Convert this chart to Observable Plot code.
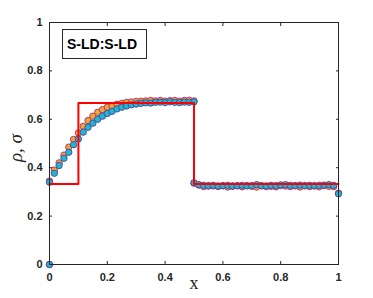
<!DOCTYPE html>
<html>
<head>
<meta charset="utf-8">
<script src="https://cdn.jsdelivr.net/npm/d3@7"></script>
<script src="https://cdn.jsdelivr.net/npm/@observablehq/plot@0.6"></script>
<style>
  html, body { margin: 0; padding: 0; background: #fff; }
  #chart { width: 373px; height: 298px; }
</style>
</head>
<body>
<div id="chart"></div>
<script>
// Left sub-domain grid (first entry is the stray point at the origin)
const leftX = [0, 0, 0.0167, 0.0333, 0.05, 0.0667, 0.0833, 0.1, 0.1167, 0.1333, 0.15,
  0.1667, 0.1833, 0.2, 0.2167, 0.2333, 0.25, 0.2667, 0.2833, 0.3, 0.3167,
  0.3333, 0.35, 0.3667, 0.3833, 0.4, 0.4167, 0.4333, 0.45, 0.4667, 0.4833, 0.5];
const leftOrange = [0, 0.345, 0.390, 0.420, 0.452, 0.485, 0.517, 0.544, 0.571, 0.595, 0.613,
  0.629, 0.640, 0.650, 0.656, 0.662, 0.666, 0.670, 0.672, 0.674, 0.675,
  0.676, 0.678, 0.676, 0.678, 0.675, 0.677, 0.678, 0.675, 0.678, 0.679, 0.676];
const leftCyan = [0, 0.340, 0.377, 0.409, 0.439, 0.464, 0.495, 0.519, 0.547, 0.567, 0.584,
  0.600, 0.613, 0.624, 0.633, 0.643, 0.650, 0.655, 0.660, 0.663, 0.666,
  0.668, 0.667, 0.670, 0.671, 0.669, 0.672, 0.670, 0.669, 0.671, 0.670, 0.672];

// Right sub-domain grid
const rightX = [0.5, 0.5167, 0.5333, 0.55, 0.5667, 0.5833, 0.6, 0.6167, 0.6333, 0.65,
  0.6667, 0.6833, 0.7, 0.7167, 0.7333, 0.75, 0.7667, 0.7833, 0.8, 0.8167,
  0.8333, 0.85, 0.8667, 0.8833, 0.9, 0.9167, 0.9333, 0.95, 0.9667, 0.9833, 1];
const rightOrange = [0.336, 0.328, 0.322, 0.324, 0.325, 0.322, 0.325, 0.320, 0.323, 0.325,
  0.321, 0.326, 0.323, 0.320, 0.325, 0.322, 0.323, 0.321, 0.326, 0.324,
  0.322, 0.325, 0.320, 0.325, 0.322, 0.324, 0.321, 0.326, 0.323, 0.322, 0.295];
const rightCyan = [0.338, 0.330, 0.327, 0.326, 0.327, 0.325, 0.326, 0.327, 0.325, 0.326,
  0.327, 0.325, 0.326, 0.330, 0.326, 0.325, 0.327, 0.326, 0.329, 0.330,
  0.327, 0.326, 0.328, 0.326, 0.327, 0.326, 0.327, 0.328, 0.330, 0.327, 0.292];

// Exact solution (step profile)
const exactX = [0, 0.1, 0.1, 0.5, 0.5, 1];
const exactY = [0.333, 0.333, 0.667, 0.667, 0.333, 0.333];

const xTicks = [0, 0.2, 0.4, 0.6, 0.8, 1];
const yTicks = [0, 0.2, 0.4, 0.6, 0.8, 1];
const legendLabel = "S-LD:S-LD";
const xLabel = "x";
const yLabel = "ρ, σ";

const orangePts = leftX.map((x, i) => ({x, y: leftOrange[i]}))
  .concat(rightX.map((x, i) => ({x, y: rightOrange[i]})));
const cyanPts = leftX.map((x, i) => ({x, y: leftCyan[i]}))
  .concat(rightX.map((x, i) => ({x, y: rightCyan[i]})));
const exact = exactX.map((x, i) => ({x, y: exactY[i]}));

const fmt = d => (d === 0 || d === 1) ? String(d) : d.toFixed(1);
const axisStyle = {fontFamily: "Liberation Sans, Arial, sans-serif", fontSize: 11, fontWeight: "bold", fill: "#262626"};

const plot = Plot.plot({
  width: 373,
  height: 298,
  marginLeft: 49,
  marginRight: 35,
  marginTop: 22,
  marginBottom: 34,
  style: {background: "#fff", color: "#262626", fontFamily: "Liberation Sans, Arial, sans-serif", overflow: "visible"},
  x: {domain: [0, 1]},
  y: {domain: [0, 1]},
  marks: [
    Plot.dot(orangePts, {x: "x", y: "y", r: 3.2, fill: "#EFA436", stroke: "#A8366E", strokeWidth: 0.9}),
    Plot.dot(cyanPts, {x: "x", y: "y", r: 3.2, fill: "#1CB8CF", stroke: "#5A3E98", strokeWidth: 0.9}),
    Plot.line(exact, {x: "x", y: "y", stroke: "#FF0000", strokeWidth: 2}),
    Plot.axisX({ticks: xTicks, tickFormat: fmt, tickSize: -3, tickPadding: 12, label: null, ...axisStyle}),
    Plot.axisX({anchor: "top", ticks: xTicks, tickSize: -3, text: null, label: null}),
    Plot.axisY({ticks: yTicks, tickFormat: fmt, tickSize: -3, tickPadding: 10, label: null, ...axisStyle}),
    Plot.axisY({anchor: "right", ticks: yTicks, tickSize: -3, text: null, label: null}),
    Plot.frame({stroke: "#262626", strokeWidth: 1})
  ]
});

const svg = d3.select(plot);
// legend box
const g = svg.append("g").attr("text-anchor", "start");
g.append("rect").attr("x", 62.5).attr("y", 29.5).attr("width", 84).attr("height", 29)
  .attr("fill", "#fff").attr("stroke", "#262626").attr("stroke-width", 1);
g.append("text").attr("x", 67).attr("y", 49).attr("text-anchor", "start").text(legendLabel)
  .attr("font-family", "Liberation Sans, Arial, sans-serif").attr("font-size", 14)
  .attr("font-weight", "bold").attr("fill", "#000");
// axis labels
svg.append("text").attr("x", 194).attr("y", 289).attr("text-anchor", "middle")
  .attr("font-family", "Liberation Serif, Times New Roman, serif").attr("font-size", 18)
  .attr("fill", "#262626").text(xLabel);
svg.append("text").attr("transform", "translate(22,148) rotate(-90)").attr("text-anchor", "middle")
  .attr("font-family", "Liberation Serif, Times New Roman, serif").attr("font-size", 19)
  .attr("font-style", "italic").attr("fill", "#262626").text(yLabel);

document.getElementById("chart").appendChild(plot);
</script>
</body>
</html>
